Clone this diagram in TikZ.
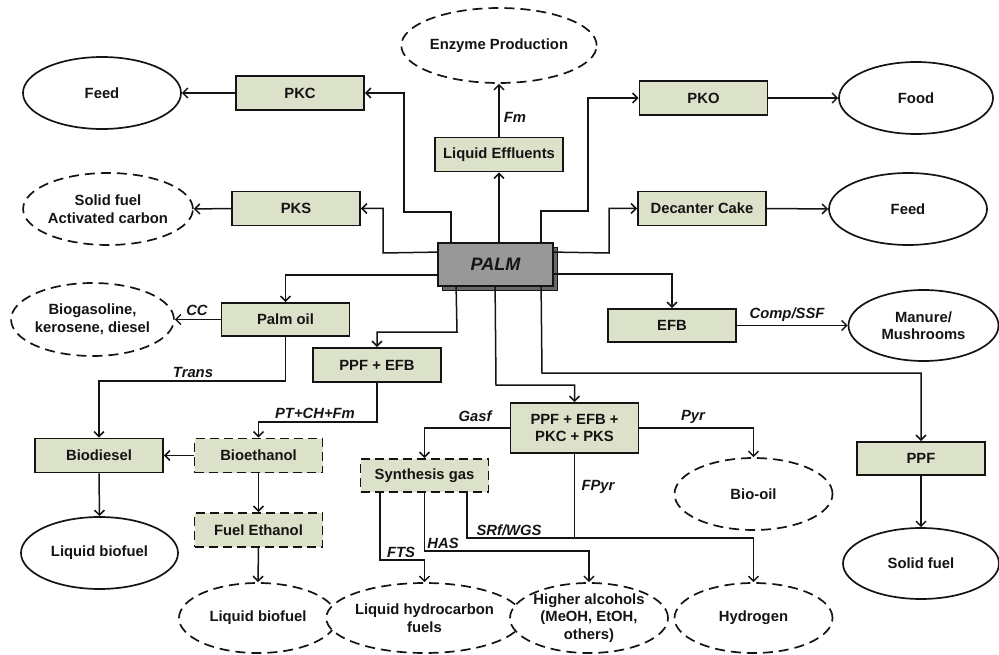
\documentclass[tikz,border=0pt]{standalone}
\usepackage{fontspec}
\setmainfont{Liberation Sans}
\usetikzlibrary{shapes.geometric,arrows.meta}
\definecolor{boxfill}{RGB}{220,226,202}
\definecolor{palmfill}{RGB}{152,152,152}
\definecolor{palmshadow}{RGB}{105,105,105}
\definecolor{ink}{RGB}{20,20,20}
\begin{document}
\begin{tikzpicture}[x=1pt,y=-1pt,
  every node/.style={font=\fontsize{14.8}{17.5}\selectfont\bfseries, text=ink, align=center},
  box/.style={draw=ink, line width=1.8pt, fill=boxfill, minimum width=128pt, minimum height=34pt, inner sep=0pt},
  dbox/.style={box, dash pattern=on 9pt off 5pt},
  oval/.style={draw=ink, line width=1.7pt, ellipse, minimum width=158pt, minimum height=72pt, inner sep=0pt, fill=white},
  doval/.style={oval, dash pattern=on 10pt off 6pt},
  arr/.style={draw=ink, line width=1.5pt, -{Straight Barb[length=5pt,width=10pt]}},
  conn/.style={draw=ink, line width=1.5pt},
  lbl/.style={font=\fontsize{14.8}{17.5}\selectfont\bfseries\itshape}
]
\useasboundingbox (0,0) rectangle (999,655);

% top row
\node[oval] (feedL) at (102,93) {Feed};
\node[box] (pkc) at (300,93) {PKC};
\node[doval, minimum width=157pt] (sfac) at (108,209) {Solid fuel\\Activated carbon};
\node[box] (pks) at (296,208.5) {PKS};
\node[doval, minimum width=159pt, minimum height=75pt] (enz) at (499,45.5) {Enzyme Production};
\node[box] (le) at (499,154.5) {Liquid Effluents};
\node[box] (pko) at (703.5,98) {PKO};
\node[oval, minimum width=154pt] (food) at (916,98) {Food};
\node[box] (dec) at (702,208.5) {Decanter Cake};
\node[oval] (feedR) at (908,209) {Feed};

% PALM
\fill[palmshadow, draw=ink, line width=0.9pt] (442,247) rectangle (557,290);
\node[box, fill=palmfill, minimum width=115pt, minimum height=43pt,
  font=\fontsize{18}{20}\selectfont\bfseries\itshape] (palm) at (495.5,264.5) {PALM};

% middle
\node[box, minimum height=33pt] (poil) at (285.5,319.5) {Palm oil};
\node[doval, minimum width=161pt, minimum height=73pt] (biog) at (92.5,319.5) {Biogasoline,\\kerosene, diesel};
\node[box] (ppfefb) at (377,365) {PPF + EFB};
\node[box, minimum height=50pt] (big) at (574.5,428) {PPF + EFB +\\PKC + PKS};
\node[box, minimum height=33pt] (efb) at (672,325.5) {EFB};
\node[oval, minimum width=150pt, minimum height=71pt] (man) at (923.5,325.5) {Manure/\\Mushrooms};

% lower
\node[box] (biod) at (99,455.5) {Biodiesel};
\node[dbox] (bioe) at (258.5,455.5) {Bioethanol};
\node[oval, minimum width=157pt] (lbf1) at (99.5,553) {Liquid biofuel};
\node[dbox] (fuel) at (258.5,530) {Fuel Ethanol};
\node[doval, minimum height=70pt] (lbf2) at (258,618) {Liquid biofuel};
\node[dbox, minimum height=33pt] (syn) at (424.5,475.5) {Synthesis gas};
\node[doval, minimum height=70pt] (lhc) at (424.5,618) {Liquid hydrocarbon\\fuels};
\node[doval, minimum height=70pt] (ha) at (589,618) {Higher alcohols\\(MeOH, EtOH,\\others)};
\node[doval, minimum height=70pt] (hyd) at (753.5,618) {Hydrogen};
\node[doval] (bio) at (753.5,494) {Bio-oil};
\node[box, minimum height=33pt] (ppf) at (921,458.5) {PPF};
\node[oval, minimum width=156pt, minimum height=71pt] (solid) at (921,563.5) {Solid fuel};

% labels
\node[lbl] (lfm) at (515,117) {Fm};
\node[lbl] (lcc) at (197,310) {CC};
\node[lbl] (ltrans) at (193,372) {Trans};
\node[lbl] (lpt) at (315,413) {PT+CH+Fm};
\node[lbl] (lgasf) at (475,416) {Gasf};
\node[lbl] (lpyr) at (693,417) {Pyr};
\node[lbl] (lcomp) at (787,315) {Comp/SSF};
\node[lbl] (lfts) at (401,552) {FTS};
\node[lbl] (lhas) at (443,543) {HAS};
\node[lbl] (lsrf) at (509,530) {SRf/WGS};
\node[lbl] (lfpyr) at (598,487) {FPyr};

% connectors from PALM
\draw[arr] ([xshift=14pt]palm.north west) |- (404,212) |- (pkc.east);
\draw[arr] ([yshift=-10pt]palm.north west) -- (383,253) |- (pks.east);
\draw[arr] (le.south |- palm.north) -- (le.south);
\draw[arr] (le.north) -- (enz.south);
\draw[arr] ([xshift=104pt]palm.north west) |- (588,211) |- (pko.west);
\draw[arr] ([yshift=-10pt]palm.north east) -- (609,253) |- (dec.west);
\draw[arr] ([yshift=-32pt]palm.north east) -| (efb.north);
\draw[arr] ([yshift=-33pt]palm.north west) -| (poil.north);
\draw[arr] ([xshift=19pt]palm.south west) -- (457,332) -| (ppfefb.north);
\draw[arr] ([xshift=58pt]palm.south west) -- (496,385) -| (big.north);
\draw[arr] ([xshift=104pt]palm.south west) -- (542,373) -| (ppf.north);

% other connectors
\draw[arr] (pkc.west) -- (feedL.east);
\draw[arr] (pks.west) -- (sfac.east);
\draw[arr] (pko.east) -- (food.west);
\draw[arr] (dec.east) -- (feedR.west);
\draw[arr] (efb.east) -- (man.west);
\draw[arr] (poil.west) -- (biog.east);
\draw[arr] (poil.south) -- (285.5,381) -| (biod.north);
\draw[arr] (ppfefb.south) -- (377,422) -| (bioe.north);
\draw[arr] (bioe.west) -- (biod.east);
\draw[arr] (bioe.south) -- (fuel.north);
\draw[arr] (fuel.south) -- (lbf2.north);
\draw[arr] (biod.south) -- (lbf1.north);
\draw[arr] (big.west) -| (syn.north);
\draw[arr] (big.east) -| (bio.north);
\draw[arr] ([xshift=-44.5pt]syn.south) -- (380,560) -| (lhc.north);
\draw[arr] (syn.south) -- (424.5,551) -| (ha.north);
\draw[arr] ([xshift=42.5pt]syn.south) -- (467,538) -| (hyd.north);
\draw[conn] (big.south) -- (574.5,538);
\draw[arr] (ppf.south) -- (solid.north);
\end{tikzpicture}
\end{document}
